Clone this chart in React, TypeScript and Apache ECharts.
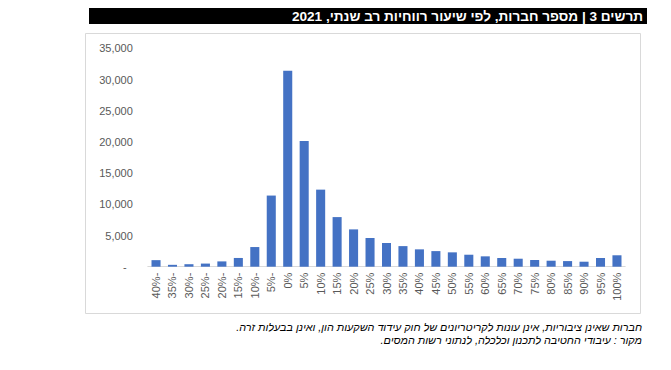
import React, { useEffect, useRef } from "react";
import * as echarts from "echarts";

const categories = [
  "40%-", "35%-", "30%-", "25%-", "20%-", "15%-", "10%-", "5%-",
  "0%", "5%", "10%", "15%", "20%", "25%", "30%", "35%", "40%", "45%", "50%",
  "55%", "60%", "65%", "70%", "75%", "80%", "85%", "90%", "95%", "100%",
];

const companies = [
  1050, 300, 400, 500, 850, 1400, 3150, 11400,
  31400, 20150, 12350, 7950, 5980, 4600, 3800, 3300, 2780, 2500, 2300,
  1920, 1660, 1390, 1280, 1070, 960, 900, 800, 1390, 1830,
];

const titleText = "תרשים 3 | מספר חברות, לפי שיעור רווחיות רב שנתי, 2021";
const noteLines = [
  "חברות שאינן ציבוריות, אינן עונות לקריטריונים של חוק עידוד השקעות הון, ואינן בבעלות זרה.\u200F",
  "מקור : עיבודי החטיבה לתכנון וכלכלה, לנתוני רשות המסים.\u200F",
];

const FONT = "'Liberation Sans', Arial, sans-serif";

export default function App() {
  const ref = useRef<HTMLDivElement>(null);

  useEffect(() => {
    if (!ref.current) return;
    const chart = echarts.init(ref.current, null, { renderer: "svg" });
    chart.setOption({
      animation: false,
      backgroundColor: "#ffffff",
      grid: { left: 147.8, right: 45.8, top: 48.3, bottom: 103.3, containLabel: false },
      xAxis: {
        type: "category",
        data: categories,
        axisLine: { show: true, lineStyle: { color: "#d9d9d9", width: 1 } },
        axisTick: { show: false },
        axisLabel: {
          rotate: 90,
          interval: 0,
          color: "#595959",
          fontFamily: FONT,
          fontSize: 11,
          margin: 6,
        },
      },
      yAxis: {
        type: "value",
        min: 0,
        max: 35000,
        interval: 5000,
        splitLine: { show: false },
        axisLine: { show: false },
        axisTick: { show: false },
        axisLabel: {
          color: "#595959",
          fontFamily: FONT,
          fontSize: 11,
          margin: 15,
          formatter: (v: number) =>
            v === 0 ? "-\u00a0\u00a0" : v.toLocaleString("en-US"),
        },
      },
      series: [
        {
          type: "bar",
          data: companies,
          barCategoryGap: "45%",
          itemStyle: { color: "#4472C4" },
        },
      ],
      graphic: [
        {
          type: "rect",
          shape: { x: 89, y: 8, width: 558, height: 16 },
          style: { fill: "#000000" },
          silent: true,
        },
        {
          type: "text",
          x: 643,
          y: 16.5,
          style: {
            text: titleText,
            fill: "#ffffff",
            font: `bold 13.6px ${FONT}`,
            align: "right",
            verticalAlign: "middle",
          },
        },
        {
          type: "rect",
          shape: { x: 85.5, y: 33.5, width: 555, height: 280 },
          style: { fill: "none", stroke: "#d9d9d9", lineWidth: 1 },
          silent: true,
          z: -1,
        },
        {
          type: "text",
          x: 642,
          y: 327,
          style: {
            text: noteLines[0],
            fill: "#000000",
            font: `italic 10.8px ${FONT}`,
            align: "right",
            verticalAlign: "middle",
          },
        },
        {
          type: "text",
          x: 642,
          y: 340,
          style: {
            text: noteLines[1],
            fill: "#000000",
            font: `italic 10.8px ${FONT}`,
            align: "right",
            verticalAlign: "middle",
          },
        },
      ],
    });
    return () => chart.dispose();
  }, []);

  return (
    <div
      ref={ref}
      style={{ position: "fixed", left: 0, top: 0, width: 671, height: 370 }}
    />
  );
}
